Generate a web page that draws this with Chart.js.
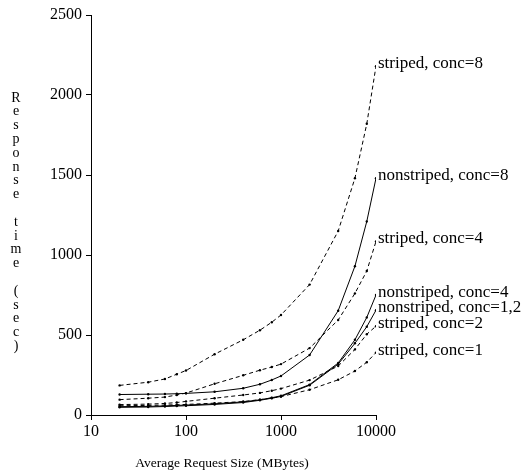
<!DOCTYPE html>
<html>
<head>
<meta charset="utf-8">
<script src="https://cdn.jsdelivr.net/npm/chart.js@4.4.1/dist/chart.umd.min.js"></script>
<style>
  html, body { margin: 0; padding: 0; background: #fff; }
  #wrap { width: 525px; height: 472px; position: relative; }
</style>
</head>
<body>
<div id="wrap"><canvas id="chart"></canvas></div>
<script>
// Request sizes (MBytes) and response times (sec)
const sizes = [20, 40, 60, 80, 100, 200, 400, 600, 800, 1000, 2000, 4000, 6000, 8000, 10000];
const stripedConc8 = [185, 205, 225, 255, 278, 380, 470, 530, 580, 625, 815, 1150, 1480, 1820, 2180];
const nonstripedConc8 = [128, 130, 131, 133, 135, 145, 167, 192, 219, 244, 375, 652, 930, 1210, 1480];
const stripedConc4 = [96, 105, 112, 125, 137, 195, 248, 280, 300, 318, 418, 594, 760, 900, 1085];
const nonstripedConc4 = [52, 54, 57, 60, 62, 70, 82, 95, 108, 120, 190, 325, 470, 610, 750];
const nonstripedConc12 = [48, 50, 53, 56, 58, 66, 78, 92, 105, 116, 186, 318, 448, 552, 655];
const stripedConc2 = [65, 68, 72, 78, 85, 105, 125, 138, 152, 165, 218, 306, 410, 505, 555];
const stripedConc1 = [58, 60, 62, 64, 66, 74, 84, 96, 106, 115, 158, 220, 275, 330, 390];

const seriesNames = ['striped, conc=8', 'nonstriped, conc=8', 'striped, conc=4', 'nonstriped, conc=4',
                     'nonstriped, conc=1,2', 'striped, conc=2', 'striped, conc=1'];
const seriesValues = [stripedConc8, nonstripedConc8, stripedConc4, nonstripedConc4,
                      nonstripedConc12, stripedConc2, stripedConc1];

const xTicks = [10, 100, 1000, 10000];
const yTicks = [0, 500, 1000, 1500, 2000, 2500];
const yTitle = 'Response time (sec)';
const xTitle = 'Average Request Size (MBytes)';

const serif = "'Liberation Serif', 'Times New Roman', serif";

// build datasets
const datasets = seriesNames.map((name, i) => ({
    label: name,
    data: seriesValues[i].map((v, j) => ({ x: sizes[j], y: v })),
    borderColor: '#000',
    borderWidth: 1,
    borderDash: name.startsWith('striped') ? [4, 3] : [],
    pointRadius: 1.2,
    pointBackgroundColor: '#000',
    pointBorderWidth: 0,
    tension: 0,
    fill: false
}));

// Labels at the end of each line
const endLabels = {
    id: 'endLabels',
    afterDatasetsDraw(chart) {
        const ctx = chart.ctx;
        ctx.save();
        ctx.fillStyle = '#000';
        ctx.font = '17px ' + serif;
        ctx.textAlign = 'left';
        ctx.textBaseline = 'alphabetic';
        chart.data.datasets.forEach((ds, i) => {
            const pts = chart.getDatasetMeta(i).data;
            const last = pts[pts.length - 1];
            ctx.fillText(ds.label, last.x + 2, last.y + 2);
        });
        ctx.restore();
    }
};

// Axis titles: stacked letters on the left, x title under the axis
const axisTitles = {
    id: 'axisTitles',
    afterDraw(chart) {
        const ctx = chart.ctx;
        ctx.save();
        ctx.fillStyle = '#000';
        ctx.font = '14px ' + serif;
        ctx.textAlign = 'center';
        ctx.textBaseline = 'middle';
        yTitle.split('').forEach((c, i) => {
            ctx.fillText(c, 16, 98 + i * 13.8);
        });
        ctx.font = '13.5px ' + serif;
        ctx.fillText(xTitle, 222, 463);
        ctx.restore();
    }
};

const ctx = document.getElementById('chart').getContext('2d');
new Chart(ctx, {
    type: 'line',
    data: { datasets: datasets },
    options: {
        responsive: true,
        maintainAspectRatio: false,
        animation: false,
        events: [],
        layout: { padding: { left: 0, right: 149, top: 15, bottom: 0 } },
        plugins: {
            legend: { display: false },
            tooltip: { enabled: false }
        },
        scales: {
            x: {
                type: 'logarithmic',
                min: 10,
                max: 10000,
                afterBuildTicks: (s) => { s.ticks = xTicks.map(v => ({ value: v })); },
                afterFit: (s) => { s.height = 57; },
                ticks: {
                    callback: (v) => String(v),
                    color: '#000',
                    font: { family: serif, size: 16 },
                    padding: 2,
                    maxRotation: 0,
                    autoSkip: false
                },
                grid: { drawOnChartArea: false, tickLength: 5, color: '#000' },
                border: { color: '#000', width: 1 }
            },
            y: {
                min: 0,
                max: 2500,
                afterBuildTicks: (s) => { s.ticks = yTicks.map(v => ({ value: v })); },
                afterFit: (s) => { s.width = 91; },
                ticks: {
                    callback: (v) => String(v),
                    color: '#000',
                    font: { family: serif, size: 16 },
                    padding: 4
                },
                grid: { drawOnChartArea: false, tickLength: 5, color: '#000' },
                border: { color: '#000', width: 1 }
            }
        }
    },
    plugins: [endLabels, axisTitles]
});
</script>
</body>
</html>
